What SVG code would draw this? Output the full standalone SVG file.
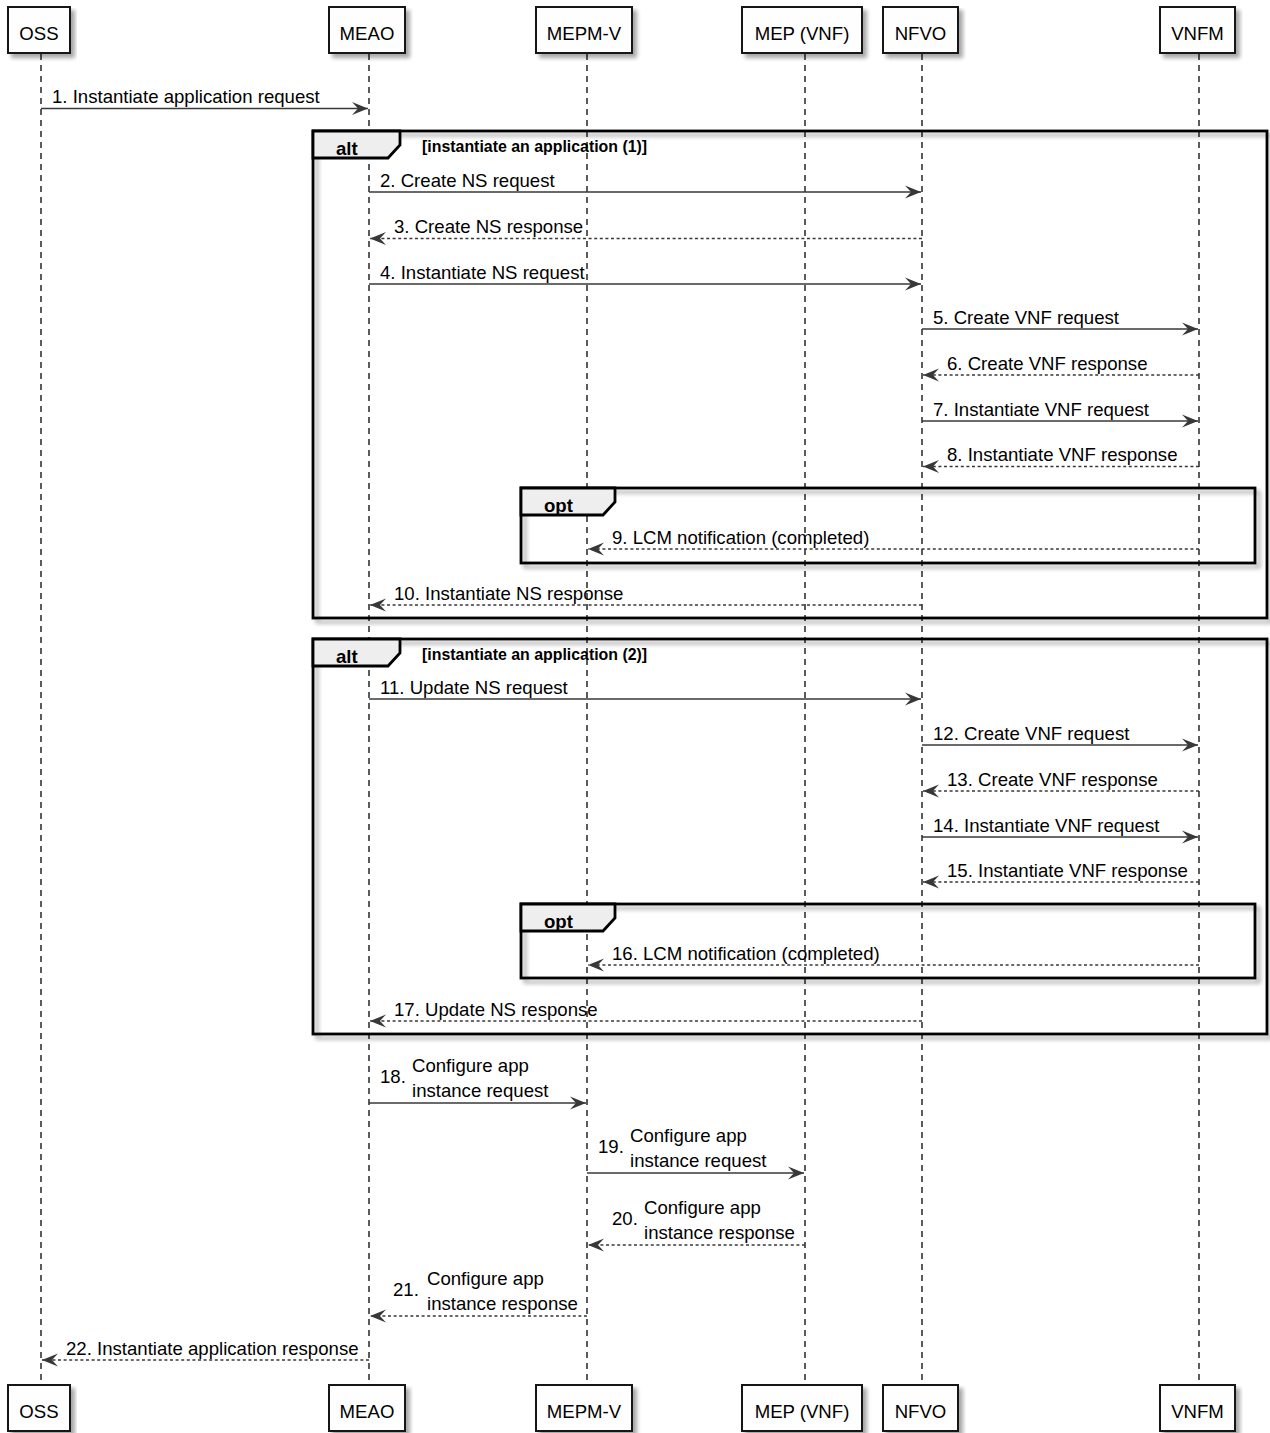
<svg xmlns="http://www.w3.org/2000/svg" width="1270" height="1433" viewBox="0 0 1270 1433">
<defs>
<filter id="sh" x="-5%" y="-5%" width="115%" height="130%">
<feGaussianBlur in="SourceAlpha" stdDeviation="2"/>
<feOffset dx="4" dy="4" result="o"/>
<feComponentTransfer><feFuncA type="linear" slope="0.35"/></feComponentTransfer>
<feMerge><feMergeNode/><feMergeNode in="SourceGraphic"/></feMerge>
</filter>
<marker id="ah" markerUnits="userSpaceOnUse" markerWidth="18" markerHeight="16" viewBox="-17 -8 18 16" refX="0" refY="0" orient="auto">
<path d="M0,0 L-16,-6.5 L-10,0 L-16,6.5 Z" fill="#383838" stroke="none"/>
</marker>
<style>
text{font-family:"Liberation Sans",Arial,sans-serif;font-size:18.6px;fill:#000}
.pt{text-anchor:middle}
.box{fill:#FEFEFE;stroke:#181818;stroke-width:2;filter:url(#sh)}
.life{stroke:#181818;stroke-width:1.4;stroke-dasharray:6,5;fill:none}
.msg{stroke:#383838;stroke-width:1.4;fill:none;marker-end:url(#ah)}
.dash{stroke-dasharray:3,2.6}
.frame{fill:none;stroke:#000;stroke-width:2.8;filter:url(#sh)}
.tab{fill:#EEEEEE;stroke:#000;stroke-width:2.8}
.fl{font-weight:bold}
.guard{font-weight:bold;font-size:15.9px}
</style>
</defs>
<rect width="1270" height="1433" fill="#FFFFFF"/>
<g id="lifelines">
<line class="life" x1="41" y1="54" x2="41" y2="1385"/>
<line class="life" x1="369" y1="54" x2="369" y2="1385"/>
<line class="life" x1="587" y1="54" x2="587" y2="1385"/>
<line class="life" x1="805" y1="54" x2="805" y2="1385"/>
<line class="life" x1="922" y1="54" x2="922" y2="1385"/>
<line class="life" x1="1199" y1="54" x2="1199" y2="1385"/>
</g>
<g id="frames">
<g id="alt1">
<rect class="frame" x="313" y="131" width="954" height="487"/>
<polygon class="tab" points="313,131 400,131 400,145 388,158 313,158"/>
<text class="fl" x="336" y="154.5">alt</text>
<text class="guard" x="422" y="152">[instantiate an application (1)]</text>
</g>
<g id="opt1">
<rect class="frame" x="521" y="488" width="734" height="75"/>
<polygon class="tab" points="521,488 615,488 615,502 603,515 521,515"/>
<text class="fl" x="544" y="512">opt</text>
</g>
<g id="alt2">
<rect class="frame" x="313" y="639" width="954" height="395"/>
<polygon class="tab" points="313,639 400,639 400,653 388,666 313,666"/>
<text class="fl" x="336" y="662.5">alt</text>
<text class="guard" x="422" y="660">[instantiate an application (2)]</text>
</g>
<g id="opt2">
<rect class="frame" x="521" y="904" width="734" height="74"/>
<polygon class="tab" points="521,904 615,904 615,918 603,931 521,931"/>
<text class="fl" x="544" y="928">opt</text>
</g>
</g>
<g id="participants-top">
<g id="p-oss"><rect class="box" x="8" y="7" width="62" height="46"/><text class="pt" x="39" y="39.5">OSS</text></g>
<g id="p-meao"><rect class="box" x="329" y="7" width="76" height="46"/><text class="pt" x="367" y="39.5">MEAO</text></g>
<g id="p-mepmv"><rect class="box" x="536" y="7" width="96" height="46"/><text class="pt" x="584" y="39.5">MEPM-V</text></g>
<g id="p-mep"><rect class="box" x="742" y="7" width="120" height="46"/><text class="pt" x="802" y="39.5">MEP (VNF)</text></g>
<g id="p-nfvo"><rect class="box" x="883" y="7" width="75" height="46"/><text class="pt" x="920.5" y="39.5">NFVO</text></g>
<g id="p-vnfm"><rect class="box" x="1160" y="7" width="75" height="46"/><text class="pt" x="1197.5" y="39.5">VNFM</text></g>
</g>
<g id="participants-bottom">
<g id="p-oss-b"><rect class="box" x="8" y="1385" width="62" height="46"/><text class="pt" x="39" y="1418">OSS</text></g>
<g id="p-meao-b"><rect class="box" x="329" y="1385" width="76" height="46"/><text class="pt" x="367" y="1418">MEAO</text></g>
<g id="p-mepmv-b"><rect class="box" x="536" y="1385" width="96" height="46"/><text class="pt" x="584" y="1418">MEPM-V</text></g>
<g id="p-mep-b"><rect class="box" x="742" y="1385" width="120" height="46"/><text class="pt" x="802" y="1418">MEP (VNF)</text></g>
<g id="p-nfvo-b"><rect class="box" x="883" y="1385" width="75" height="46"/><text class="pt" x="920.5" y="1418">NFVO</text></g>
<g id="p-vnfm-b"><rect class="box" x="1160" y="1385" width="75" height="46"/><text class="pt" x="1197.5" y="1418">VNFM</text></g>
</g>
<g id="connectors">
<line class="msg" x1="41" y1="108.5" x2="368" y2="108.5"/>
<text x="52" y="103">1. Instantiate application request</text>
<line class="msg" x1="369" y1="192" x2="921" y2="192"/>
<text x="380" y="186.5">2. Create NS request</text>
<line class="msg dash" x1="922" y1="238.5" x2="370" y2="238.5"/>
<text x="394" y="233">3. Create NS response</text>
<line class="msg" x1="369" y1="284" x2="921" y2="284"/>
<text x="380" y="278.5">4. Instantiate NS request</text>
<line class="msg" x1="922" y1="329" x2="1198" y2="329"/>
<text x="933" y="323.5">5. Create VNF request</text>
<line class="msg dash" x1="1199" y1="375" x2="923" y2="375"/>
<text x="947" y="369.5">6. Create VNF response</text>
<line class="msg" x1="922" y1="421" x2="1198" y2="421"/>
<text x="933" y="415.5">7. Instantiate VNF request</text>
<line class="msg dash" x1="1199" y1="466.5" x2="923" y2="466.5"/>
<text x="947" y="461">8. Instantiate VNF response</text>
<line class="msg dash" x1="1199" y1="549" x2="588" y2="549"/>
<text x="612" y="543.5">9. LCM notification (completed)</text>
<line class="msg dash" x1="922" y1="605" x2="370" y2="605"/>
<text x="394" y="599.5">10. Instantiate NS response</text>
<line class="msg" x1="369" y1="699" x2="921" y2="699"/>
<text x="380" y="693.5">11. Update NS request</text>
<line class="msg" x1="922" y1="745" x2="1198" y2="745"/>
<text x="933" y="739.5">12. Create VNF request</text>
<line class="msg dash" x1="1199" y1="791" x2="923" y2="791"/>
<text x="947" y="785.5">13. Create VNF response</text>
<line class="msg" x1="922" y1="837" x2="1198" y2="837"/>
<text x="933" y="831.5">14. Instantiate VNF request</text>
<line class="msg dash" x1="1199" y1="882" x2="923" y2="882"/>
<text x="947" y="876.5">15. Instantiate VNF response</text>
<line class="msg dash" x1="1199" y1="965" x2="588" y2="965"/>
<text x="612" y="959.5">16. LCM notification (completed)</text>
<line class="msg dash" x1="922" y1="1021" x2="370" y2="1021"/>
<text x="394" y="1015.5">17. Update NS response</text>
<line class="msg" x1="369" y1="1103" x2="586" y2="1103"/>
<text x="380" y="1083">18.</text>
<text x="412" y="1072">Configure app</text>
<text x="412" y="1097">instance request</text>
<line class="msg" x1="587" y1="1173" x2="804" y2="1173"/>
<text x="598" y="1153">19.</text>
<text x="630" y="1142">Configure app</text>
<text x="630" y="1167">instance request</text>
<line class="msg dash" x1="805" y1="1245" x2="588" y2="1245"/>
<text x="612" y="1225">20.</text>
<text x="644" y="1214">Configure app</text>
<text x="644" y="1239">instance response</text>
<line class="msg dash" x1="587" y1="1316" x2="370" y2="1316"/>
<text x="393" y="1296">21.</text>
<text x="427" y="1285">Configure app</text>
<text x="427" y="1310">instance response</text>
<line class="msg dash" x1="369" y1="1360" x2="42" y2="1360"/>
<text x="66" y="1354.5">22. Instantiate application response</text>
</g>
</svg>
